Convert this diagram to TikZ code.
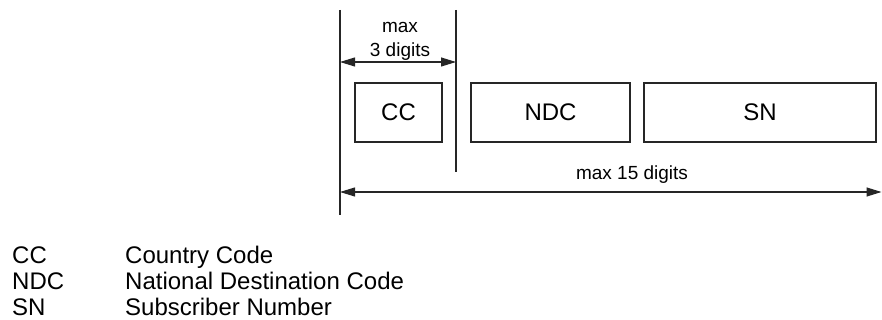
\documentclass[tikz,border=0pt]{standalone}
\usepackage{fontspec}
\setmainfont{Liberation Sans}
\usetikzlibrary{arrows.meta}
\begin{document}
\begin{tikzpicture}[x=1pt,y=-1pt,
  ln/.style={line width=1.1pt,black!85},
  dimarrow/.style={ln,{Triangle[length=15pt,width=9pt]}-{Triangle[length=15pt,width=9pt]}},
  fieldbox/.style={draw=black!85,line width=1.1pt,minimum height=59pt,inner sep=0pt,
    font=\fontsize{24pt}{28pt}\selectfont},
  small/.style={inner sep=0pt,anchor=base,font=\fontsize{19pt}{23pt}\selectfont},
  legend/.style={inner sep=0pt,anchor=base west,font=\fontsize{24pt}{28pt}\selectfont}]
\useasboundingbox (0,0) rectangle (882,320);
% vertical guide lines
\coordinate (ltop) at (340,10);
\coordinate (lbot) at (340,215);
\coordinate (rtop) at (456,10);
\coordinate (rbot) at (456,172);
\draw[ln] (ltop) -- (lbot);
\draw[ln] (rtop) -- (rbot);
% short dimension arrow
\coordinate (sa) at (340,62);
\coordinate (sb) at (456,62);
\draw[dimarrow] (sa) -- (sb);
\node[small] (max) at (400,33) {max};
\node[small] (three) at (400,57) {3 digits};
% boxes
\node[fieldbox,minimum width=87pt] (cc) at (398.5,112.5) {CC};
\node[fieldbox,minimum width=159pt] (ndc) at (550.5,112.5) {NDC};
\node[fieldbox,minimum width=232pt] (sn) at (760,112.5) {SN};
% long dimension arrow
\coordinate (la) at (340,192);
\coordinate (lb) at (881.5,192);
\draw[dimarrow] (la) -- (lb);
\node[small] (fifteen) at (632,180) {max 15 digits};
% legend
\node[legend] (k1) at (12,263) {CC};
\node[legend] (v1) at (125,263) {Country Code};
\node[legend] (k2) at (12,289) {NDC};
\node[legend] (v2) at (125,289) {National Destination Code};
\node[legend] (k3) at (12,315) {SN};
\node[legend] (v3) at (125,315) {Subscriber Number};
\end{tikzpicture}
\end{document}
